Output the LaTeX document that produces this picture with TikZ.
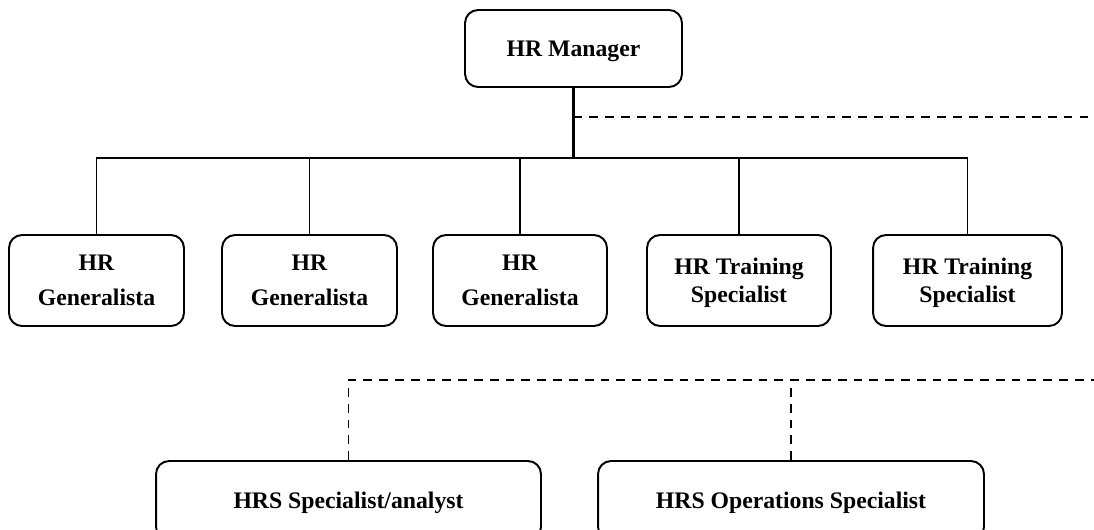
\documentclass[tikz,border=0pt]{standalone}
\usepackage{fontspec}
\setmainfont{Liberation Serif}
\usetikzlibrary{positioning}

\begin{document}
\begin{tikzpicture}[x=0.02cm, y=-0.02cm]
	\tikzstyle{every node}=[font=\fontsize{13.5pt}{16pt}\selectfont\bfseries]
	\tikzstyle{unit}=[draw, line width=1.1pt, rounded corners=0.26cm, align=center, inner sep=0pt, text depth=0pt, minimum height=1.82cm]
	\tikzstyle{hrs}=[unit, minimum height=1.58cm]
	\tikzstyle{link}=[line width=0.85pt]
	\tikzstyle{dashlink}=[line width=1pt, dash pattern=on 5pt off 4pt]
	\useasboundingbox (0,0) rectangle (1094,530);
	\clip (0,0) rectangle (1094,530);
	\node [unit, minimum width=4.34cm, minimum height=1.54cm] (mgr) at (573.5,48.5) {HR Manager};
	\node [unit, minimum width=3.5cm] (gen1) at (96.5,280.5) {HR\\[4pt]Generalista};
	\node [unit, minimum width=3.5cm] (gen2) at (309.5,280.5) {HR\\[4pt]Generalista};
	\node [unit, minimum width=3.48cm] (gen3) at (520,280.5) {HR\\[4pt]Generalista};
	\node [unit, minimum width=3.68cm] (trn1) at (739,280.5) {HR Training\\Specialist};
	\node [unit, minimum width=3.78cm] (trn2) at (967.5,280.5) {HR Training\\Specialist};
	\node [hrs, minimum width=7.7cm] (hrsa) at (348.5,500.5) {HRS Specialist/analyst};
	\node [hrs, minimum width=7.72cm] (hrso) at (791,500.5) {HRS Operations Specialist};
	\coordinate (bus) at (573.5,158);
	\coordinate (staff) at (573.5,117);
	\coordinate (edge1) at (1094,117);
	\coordinate (edge2) at (1094,380);
	% solid reporting lines
	\draw [line width=1.6pt] (mgr.south) -- (bus);
	\draw [link, line width=1.1pt] (gen1.north) -- (bus -| gen1.north) -- (bus -| trn2.north) -- (trn2.north);
	\foreach \n in {gen2,gen3,trn1}
		\draw [link] (bus -| \n.north) -- (\n.north);
	% dashed lines
	\draw [dashlink] (staff) -- (edge1);
	\draw [dashlink] (hrsa.north) -- (hrsa.north |- edge2) -- (edge2);
	\draw [dashlink] (hrso.north) -- (hrso.north |- edge2);
\end{tikzpicture}
\end{document}
